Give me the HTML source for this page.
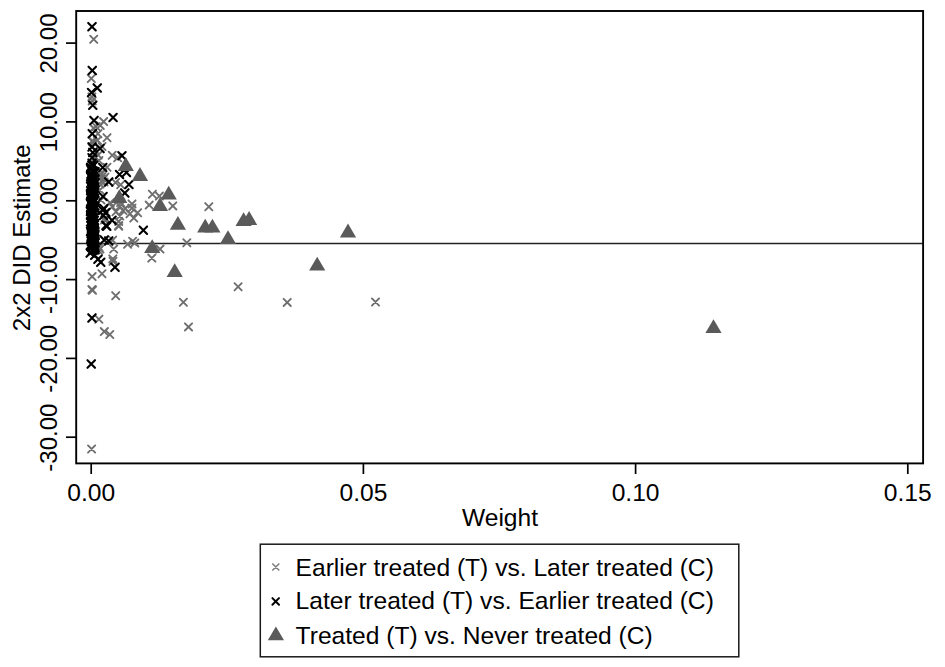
<!DOCTYPE html><html><head><meta charset="utf-8"><title>Bacon decomposition</title>
<style>html,body{margin:0;padding:0;background:#fff}svg{display:block}text{font-family:"Liberation Sans",sans-serif;fill:#000}</style></head><body>
<svg width="945" height="667" viewBox="0 0 945 667">
<rect width="945" height="667" fill="#fff"/>
<line x1="76.2" y1="243.5" x2="923.1" y2="243.5" stroke="#222" stroke-width="1.6"/>
<g>
<path d="M90.1 35.7L97.3 42.9M90.1 42.9L97.3 35.7" stroke="#6e6e6e" stroke-width="1.9" stroke-linecap="round" fill="none"/>
<path d="M87.7 74.9L94.9 82.1M87.7 82.1L94.9 74.9" stroke="#6e6e6e" stroke-width="1.9" stroke-linecap="round" fill="none"/>
<path d="M88.3 93.3L95.5 100.5M88.3 100.5L95.5 93.3" stroke="#6e6e6e" stroke-width="1.9" stroke-linecap="round" fill="none"/>
<path d="M88.6 97.3L95.8 104.5M88.6 104.5L95.8 97.3" stroke="#6e6e6e" stroke-width="1.9" stroke-linecap="round" fill="none"/>
<path d="M100.0 118.0L107.2 125.2M100.0 125.2L107.2 118.0" stroke="#6e6e6e" stroke-width="1.9" stroke-linecap="round" fill="none"/>
<path d="M96.6 121.8L103.8 129.0M96.6 129.0L103.8 121.8" stroke="#6e6e6e" stroke-width="1.9" stroke-linecap="round" fill="none"/>
<path d="M89.9 124.5L97.1 131.7M89.9 131.7L97.1 124.5" stroke="#6e6e6e" stroke-width="1.9" stroke-linecap="round" fill="none"/>
<path d="M92.4 122.9L99.6 130.1M92.4 130.1L99.6 122.9" stroke="#6e6e6e" stroke-width="1.9" stroke-linecap="round" fill="none"/>
<path d="M103.4 134.1L110.6 141.3M103.4 141.3L110.6 134.1" stroke="#6e6e6e" stroke-width="1.9" stroke-linecap="round" fill="none"/>
<path d="M89.2 138.0L96.4 145.2M89.2 145.2L96.4 138.0" stroke="#6e6e6e" stroke-width="1.9" stroke-linecap="round" fill="none"/>
<path d="M90.0 138.8L97.2 146.0M90.0 146.0L97.2 138.8" stroke="#6e6e6e" stroke-width="1.9" stroke-linecap="round" fill="none"/>
<path d="M88.6 137.2L95.8 144.4M88.6 144.4L95.8 137.2" stroke="#6e6e6e" stroke-width="1.9" stroke-linecap="round" fill="none"/>
<path d="M93.9 136.7L101.1 143.9M93.9 143.9L101.1 136.7" stroke="#6e6e6e" stroke-width="1.9" stroke-linecap="round" fill="none"/>
<path d="M94.3 130.1L101.5 137.3M94.3 137.3L101.5 130.1" stroke="#6e6e6e" stroke-width="1.9" stroke-linecap="round" fill="none"/>
<path d="M108.6 151.7L115.8 158.9M108.6 158.9L115.8 151.7" stroke="#6e6e6e" stroke-width="1.9" stroke-linecap="round" fill="none"/>
<path d="M114.1 154.1L121.3 161.3M114.1 161.3L121.3 154.1" stroke="#6e6e6e" stroke-width="1.9" stroke-linecap="round" fill="none"/>
<path d="M98.4 142.9L105.6 150.1M98.4 150.1L105.6 142.9" stroke="#6e6e6e" stroke-width="1.9" stroke-linecap="round" fill="none"/>
<path d="M94.6 151.5L101.8 158.7M94.6 158.7L101.8 151.5" stroke="#6e6e6e" stroke-width="1.9" stroke-linecap="round" fill="none"/>
<path d="M95.3 156.9L102.5 164.1M95.3 164.1L102.5 156.9" stroke="#6e6e6e" stroke-width="1.9" stroke-linecap="round" fill="none"/>
<path d="M103.4 163.7L110.6 170.9M103.4 170.9L110.6 163.7" stroke="#6e6e6e" stroke-width="1.9" stroke-linecap="round" fill="none"/>
<path d="M91.4 146.4L98.6 153.6M91.4 153.6L98.6 146.4" stroke="#6e6e6e" stroke-width="1.9" stroke-linecap="round" fill="none"/>
<path d="M91.4 154.4L98.6 161.6M91.4 161.6L98.6 154.4" stroke="#6e6e6e" stroke-width="1.9" stroke-linecap="round" fill="none"/>
<path d="M96.9 170.4L104.1 177.6M96.9 177.6L104.1 170.4" stroke="#6e6e6e" stroke-width="1.9" stroke-linecap="round" fill="none"/>
<path d="M98.4 172.9L105.6 180.1M98.4 180.1L105.6 172.9" stroke="#6e6e6e" stroke-width="1.9" stroke-linecap="round" fill="none"/>
<path d="M99.9 175.4L107.1 182.6M99.9 182.6L107.1 175.4" stroke="#6e6e6e" stroke-width="1.9" stroke-linecap="round" fill="none"/>
<path d="M97.4 177.4L104.6 184.6M97.4 184.6L104.6 177.4" stroke="#6e6e6e" stroke-width="1.9" stroke-linecap="round" fill="none"/>
<path d="M100.4 178.4L107.6 185.6M100.4 185.6L107.6 178.4" stroke="#6e6e6e" stroke-width="1.9" stroke-linecap="round" fill="none"/>
<path d="M95.9 174.4L103.1 181.6M95.9 181.6L103.1 174.4" stroke="#6e6e6e" stroke-width="1.9" stroke-linecap="round" fill="none"/>
<path d="M98.9 169.4L106.1 176.6M98.9 176.6L106.1 169.4" stroke="#6e6e6e" stroke-width="1.9" stroke-linecap="round" fill="none"/>
<path d="M101.4 173.4L108.6 180.6M101.4 180.6L108.6 173.4" stroke="#6e6e6e" stroke-width="1.9" stroke-linecap="round" fill="none"/>
<path d="M96.4 180.4L103.6 187.6M96.4 187.6L103.6 180.4" stroke="#6e6e6e" stroke-width="1.9" stroke-linecap="round" fill="none"/>
<path d="M148.8 190.6L156.0 197.8M148.8 197.8L156.0 190.6" stroke="#6e6e6e" stroke-width="1.9" stroke-linecap="round" fill="none"/>
<path d="M155.8 192.5L163.0 199.7M155.8 199.7L163.0 192.5" stroke="#6e6e6e" stroke-width="1.9" stroke-linecap="round" fill="none"/>
<path d="M145.6 201.5L152.8 208.7M145.6 208.7L152.8 201.5" stroke="#6e6e6e" stroke-width="1.9" stroke-linecap="round" fill="none"/>
<path d="M169.2 202.3L176.4 209.5M169.2 209.5L176.4 202.3" stroke="#6e6e6e" stroke-width="1.9" stroke-linecap="round" fill="none"/>
<path d="M128.3 204.5L135.5 211.7M128.3 211.7L135.5 204.5" stroke="#6e6e6e" stroke-width="1.9" stroke-linecap="round" fill="none"/>
<path d="M134.0 209.1L141.2 216.3M134.0 216.3L141.2 209.1" stroke="#6e6e6e" stroke-width="1.9" stroke-linecap="round" fill="none"/>
<path d="M130.2 214.5L137.4 221.7M130.2 221.7L137.4 214.5" stroke="#6e6e6e" stroke-width="1.9" stroke-linecap="round" fill="none"/>
<path d="M126.4 210.2L133.6 217.4M126.4 217.4L133.6 210.2" stroke="#6e6e6e" stroke-width="1.9" stroke-linecap="round" fill="none"/>
<path d="M108.6 203.2L115.8 210.4M108.6 210.4L115.8 203.2" stroke="#6e6e6e" stroke-width="1.9" stroke-linecap="round" fill="none"/>
<path d="M116.2 202.7L123.4 209.9M116.2 209.9L123.4 202.7" stroke="#6e6e6e" stroke-width="1.9" stroke-linecap="round" fill="none"/>
<path d="M112.4 208.1L119.6 215.3M112.4 215.3L119.6 208.1" stroke="#6e6e6e" stroke-width="1.9" stroke-linecap="round" fill="none"/>
<path d="M119.4 207.0L126.6 214.2M119.4 214.2L126.6 207.0" stroke="#6e6e6e" stroke-width="1.9" stroke-linecap="round" fill="none"/>
<path d="M116.2 212.4L123.4 219.6M116.2 219.6L123.4 212.4" stroke="#6e6e6e" stroke-width="1.9" stroke-linecap="round" fill="none"/>
<path d="M115.1 217.8L122.3 225.0M115.1 225.0L122.3 217.8" stroke="#6e6e6e" stroke-width="1.9" stroke-linecap="round" fill="none"/>
<path d="M115.1 222.6L122.3 229.8M115.1 229.8L122.3 222.6" stroke="#6e6e6e" stroke-width="1.9" stroke-linecap="round" fill="none"/>
<path d="M121.6 204.8L128.8 212.0M121.6 212.0L128.8 204.8" stroke="#6e6e6e" stroke-width="1.9" stroke-linecap="round" fill="none"/>
<path d="M106.6 199.1L113.8 206.3M106.6 206.3L113.8 199.1" stroke="#6e6e6e" stroke-width="1.9" stroke-linecap="round" fill="none"/>
<path d="M117.0 199.0L124.2 206.2M117.0 206.2L124.2 199.0" stroke="#6e6e6e" stroke-width="1.9" stroke-linecap="round" fill="none"/>
<path d="M128.4 200.3L135.6 207.5M128.4 207.5L135.6 200.3" stroke="#6e6e6e" stroke-width="1.9" stroke-linecap="round" fill="none"/>
<path d="M111.9 178.9L119.1 186.1M111.9 186.1L119.1 178.9" stroke="#6e6e6e" stroke-width="1.9" stroke-linecap="round" fill="none"/>
<path d="M117.1 181.1L124.3 188.3M117.1 188.3L124.3 181.1" stroke="#6e6e6e" stroke-width="1.9" stroke-linecap="round" fill="none"/>
<path d="M101.4 214.4L108.6 221.6M101.4 221.6L108.6 214.4" stroke="#6e6e6e" stroke-width="1.9" stroke-linecap="round" fill="none"/>
<path d="M102.4 215.9L109.6 223.1M102.4 223.1L109.6 215.9" stroke="#6e6e6e" stroke-width="1.9" stroke-linecap="round" fill="none"/>
<path d="M100.9 216.4L108.1 223.6M100.9 223.6L108.1 216.4" stroke="#6e6e6e" stroke-width="1.9" stroke-linecap="round" fill="none"/>
<path d="M183.2 239.2L190.4 246.4M183.2 246.4L190.4 239.2" stroke="#6e6e6e" stroke-width="1.9" stroke-linecap="round" fill="none"/>
<path d="M129.0 237.7L136.2 244.9M129.0 244.9L136.2 237.7" stroke="#6e6e6e" stroke-width="1.9" stroke-linecap="round" fill="none"/>
<path d="M131.2 239.3L138.4 246.5M131.2 246.5L138.4 239.3" stroke="#6e6e6e" stroke-width="1.9" stroke-linecap="round" fill="none"/>
<path d="M124.0 240.6L131.2 247.8M124.0 247.8L131.2 240.6" stroke="#6e6e6e" stroke-width="1.9" stroke-linecap="round" fill="none"/>
<path d="M148.2 254.5L155.4 261.7M148.2 261.7L155.4 254.5" stroke="#6e6e6e" stroke-width="1.9" stroke-linecap="round" fill="none"/>
<path d="M156.4 245.5L163.6 252.7M156.4 252.7L163.6 245.5" stroke="#6e6e6e" stroke-width="1.9" stroke-linecap="round" fill="none"/>
<path d="M110.1 245.4L117.3 252.6M110.1 252.6L117.3 245.4" stroke="#6e6e6e" stroke-width="1.9" stroke-linecap="round" fill="none"/>
<path d="M109.2 255.3L116.4 262.5M109.2 262.5L116.4 255.3" stroke="#6e6e6e" stroke-width="1.9" stroke-linecap="round" fill="none"/>
<path d="M98.4 270.2L105.6 277.4M98.4 277.4L105.6 270.2" stroke="#6e6e6e" stroke-width="1.9" stroke-linecap="round" fill="none"/>
<path d="M88.5 273.0L95.7 280.2M88.5 280.2L95.7 273.0" stroke="#6e6e6e" stroke-width="1.9" stroke-linecap="round" fill="none"/>
<path d="M109.0 236.6L116.2 243.8M109.0 243.8L116.2 236.6" stroke="#6e6e6e" stroke-width="1.9" stroke-linecap="round" fill="none"/>
<path d="M109.4 257.7L116.6 264.9M109.4 264.9L116.6 257.7" stroke="#6e6e6e" stroke-width="1.9" stroke-linecap="round" fill="none"/>
<path d="M88.3 286.0L95.5 293.2M88.3 293.2L95.5 286.0" stroke="#6e6e6e" stroke-width="1.9" stroke-linecap="round" fill="none"/>
<path d="M88.9 286.6L96.1 293.8M88.9 293.8L96.1 286.6" stroke="#6e6e6e" stroke-width="1.9" stroke-linecap="round" fill="none"/>
<path d="M112.1 292.1L119.3 299.3M112.1 299.3L119.3 292.1" stroke="#6e6e6e" stroke-width="1.9" stroke-linecap="round" fill="none"/>
<path d="M179.8 298.7L187.0 305.9M179.8 305.9L187.0 298.7" stroke="#6e6e6e" stroke-width="1.9" stroke-linecap="round" fill="none"/>
<path d="M95.3 315.6L102.5 322.8M95.3 322.8L102.5 315.6" stroke="#6e6e6e" stroke-width="1.9" stroke-linecap="round" fill="none"/>
<path d="M100.7 328.0L107.9 335.2M100.7 335.2L107.9 328.0" stroke="#6e6e6e" stroke-width="1.9" stroke-linecap="round" fill="none"/>
<path d="M106.2 330.9L113.4 338.1M106.2 338.1L113.4 330.9" stroke="#6e6e6e" stroke-width="1.9" stroke-linecap="round" fill="none"/>
<path d="M184.9 323.3L192.1 330.5M184.9 330.5L192.1 323.3" stroke="#6e6e6e" stroke-width="1.9" stroke-linecap="round" fill="none"/>
<path d="M205.2 203.1L212.4 210.3M205.2 210.3L212.4 203.1" stroke="#6e6e6e" stroke-width="1.9" stroke-linecap="round" fill="none"/>
<path d="M234.5 283.2L241.7 290.4M234.5 290.4L241.7 283.2" stroke="#6e6e6e" stroke-width="1.9" stroke-linecap="round" fill="none"/>
<path d="M283.6 298.8L290.8 306.0M283.6 306.0L290.8 298.8" stroke="#6e6e6e" stroke-width="1.9" stroke-linecap="round" fill="none"/>
<path d="M371.9 298.4L379.1 305.6M371.9 305.6L379.1 298.4" stroke="#6e6e6e" stroke-width="1.9" stroke-linecap="round" fill="none"/>
<path d="M88.0 445.4L95.2 452.6M88.0 452.6L95.2 445.4" stroke="#6e6e6e" stroke-width="1.9" stroke-linecap="round" fill="none"/>
<path d="M95.4 243.4L102.6 250.6M95.4 250.6L102.6 243.4" stroke="#6e6e6e" stroke-width="1.9" stroke-linecap="round" fill="none"/>
<path d="M96.4 245.4L103.6 252.6M96.4 252.6L103.6 245.4" stroke="#6e6e6e" stroke-width="1.9" stroke-linecap="round" fill="none"/>
<path d="M94.9 246.9L102.1 254.1M94.9 254.1L102.1 246.9" stroke="#6e6e6e" stroke-width="1.9" stroke-linecap="round" fill="none"/>
<path d="M115.0 222.0L122.2 229.2M115.0 229.2L122.2 222.0" stroke="#6e6e6e" stroke-width="1.9" stroke-linecap="round" fill="none"/>
<path d="M96.4 186.4L103.6 193.6M96.4 193.6L103.6 186.4" stroke="#6e6e6e" stroke-width="1.9" stroke-linecap="round" fill="none"/>
<path d="M97.4 196.4L104.6 203.6M97.4 203.6L104.6 196.4" stroke="#6e6e6e" stroke-width="1.9" stroke-linecap="round" fill="none"/>
</g><g>
<path d="M88.2 22.9L95.8 30.4M88.2 30.4L95.8 22.9" stroke="#000000" stroke-width="2.1" stroke-linecap="round" fill="none"/>
<path d="M88.5 66.7L96.0 74.2M88.5 74.2L96.0 66.7" stroke="#000000" stroke-width="2.1" stroke-linecap="round" fill="none"/>
<path d="M93.5 84.2L101.0 91.8M93.5 91.8L101.0 84.2" stroke="#000000" stroke-width="2.1" stroke-linecap="round" fill="none"/>
<path d="M87.8 88.8L95.2 96.2M87.8 96.2L95.2 88.8" stroke="#000000" stroke-width="2.1" stroke-linecap="round" fill="none"/>
<path d="M89.0 101.5L96.5 109.0M89.0 109.0L96.5 101.5" stroke="#000000" stroke-width="2.1" stroke-linecap="round" fill="none"/>
<path d="M109.3 113.8L116.8 121.2M109.3 121.2L116.8 113.8" stroke="#000000" stroke-width="2.1" stroke-linecap="round" fill="none"/>
<path d="M90.2 116.7L97.8 124.2M90.2 124.2L97.8 116.7" stroke="#000000" stroke-width="2.1" stroke-linecap="round" fill="none"/>
<path d="M88.5 129.9L96.0 137.4M88.5 137.4L96.0 129.9" stroke="#000000" stroke-width="2.1" stroke-linecap="round" fill="none"/>
<path d="M96.3 144.8L103.8 152.3M96.3 152.3L103.8 144.8" stroke="#000000" stroke-width="2.1" stroke-linecap="round" fill="none"/>
<path d="M88.3 143.2L95.8 150.8M88.3 150.8L95.8 143.2" stroke="#000000" stroke-width="2.1" stroke-linecap="round" fill="none"/>
<path d="M89.0 148.7L96.5 156.2M89.0 156.2L96.5 148.7" stroke="#000000" stroke-width="2.1" stroke-linecap="round" fill="none"/>
<path d="M88.3 154.1L95.8 161.6M88.3 161.6L95.8 154.1" stroke="#000000" stroke-width="2.1" stroke-linecap="round" fill="none"/>
<path d="M88.3 159.4L95.8 166.9M88.3 166.9L95.8 159.4" stroke="#000000" stroke-width="2.1" stroke-linecap="round" fill="none"/>
<path d="M118.2 152.1L125.7 159.6M118.2 159.6L125.7 152.1" stroke="#000000" stroke-width="2.1" stroke-linecap="round" fill="none"/>
<path d="M99.0 163.8L106.5 171.2M99.0 171.2L106.5 163.8" stroke="#000000" stroke-width="2.1" stroke-linecap="round" fill="none"/>
<path d="M115.8 170.8L123.3 178.3M115.8 178.3L123.3 170.8" stroke="#000000" stroke-width="2.1" stroke-linecap="round" fill="none"/>
<path d="M122.7 168.8L130.2 176.3M122.7 176.3L130.2 168.8" stroke="#000000" stroke-width="2.1" stroke-linecap="round" fill="none"/>
<path d="M105.0 178.2L112.5 185.8M105.0 185.8L112.5 178.2" stroke="#000000" stroke-width="2.1" stroke-linecap="round" fill="none"/>
<path d="M125.2 180.8L132.7 188.2M125.2 188.2L132.7 180.8" stroke="#000000" stroke-width="2.1" stroke-linecap="round" fill="none"/>
<path d="M121.0 189.2L128.6 196.8M121.0 196.8L128.6 189.2" stroke="#000000" stroke-width="2.1" stroke-linecap="round" fill="none"/>
<path d="M99.2 192.8L106.8 200.2M99.2 200.2L106.8 192.8" stroke="#000000" stroke-width="2.1" stroke-linecap="round" fill="none"/>
<path d="M100.0 204.8L107.5 212.2M100.0 212.2L107.5 204.8" stroke="#000000" stroke-width="2.1" stroke-linecap="round" fill="none"/>
<path d="M102.0 208.8L109.5 216.2M102.0 216.2L109.5 208.8" stroke="#000000" stroke-width="2.1" stroke-linecap="round" fill="none"/>
<path d="M99.8 211.8L107.2 219.2M99.8 219.2L107.2 211.8" stroke="#000000" stroke-width="2.1" stroke-linecap="round" fill="none"/>
<path d="M108.2 216.6L115.8 224.1M108.2 224.1L115.8 216.6" stroke="#000000" stroke-width="2.1" stroke-linecap="round" fill="none"/>
<path d="M103.0 222.4L110.5 229.9M103.0 229.9L110.5 222.4" stroke="#000000" stroke-width="2.1" stroke-linecap="round" fill="none"/>
<path d="M99.0 206.4L106.5 213.9M99.0 213.9L106.5 206.4" stroke="#000000" stroke-width="2.1" stroke-linecap="round" fill="none"/>
<path d="M102.2 221.8L109.8 229.3M102.2 229.3L109.8 221.8" stroke="#000000" stroke-width="2.1" stroke-linecap="round" fill="none"/>
<path d="M139.6 226.4L147.1 233.9M139.6 233.9L147.1 226.4" stroke="#000000" stroke-width="2.1" stroke-linecap="round" fill="none"/>
<path d="M111.2 263.6L118.8 271.1M111.2 271.1L118.8 263.6" stroke="#000000" stroke-width="2.1" stroke-linecap="round" fill="none"/>
<path d="M100.5 236.2L108.0 243.8M100.5 243.8L108.0 236.2" stroke="#000000" stroke-width="2.1" stroke-linecap="round" fill="none"/>
<path d="M105.0 237.2L112.5 244.7M105.0 244.7L112.5 237.2" stroke="#000000" stroke-width="2.1" stroke-linecap="round" fill="none"/>
<path d="M86.5 249.2L94.0 256.8M86.5 256.8L94.0 249.2" stroke="#000000" stroke-width="2.1" stroke-linecap="round" fill="none"/>
<path d="M91.0 251.6L98.5 259.1M91.0 259.1L98.5 251.6" stroke="#000000" stroke-width="2.1" stroke-linecap="round" fill="none"/>
<path d="M94.2 255.6L101.8 263.1M94.2 263.1L101.8 255.6" stroke="#000000" stroke-width="2.1" stroke-linecap="round" fill="none"/>
<path d="M97.0 258.6L104.5 266.1M97.0 266.1L104.5 258.6" stroke="#000000" stroke-width="2.1" stroke-linecap="round" fill="none"/>
<path d="M88.2 314.2L95.7 321.8M88.2 321.8L95.7 314.2" stroke="#000000" stroke-width="2.1" stroke-linecap="round" fill="none"/>
<path d="M87.5 360.2L95.0 367.8M87.5 367.8L95.0 360.2" stroke="#000000" stroke-width="2.1" stroke-linecap="round" fill="none"/>
<path d="M88.2 161.6L95.7 169.1M88.2 169.1L95.7 161.6" stroke="#000000" stroke-width="2.1" stroke-linecap="round" fill="none"/>
<path d="M89.8 161.4L97.3 168.9M89.8 168.9L97.3 161.4" stroke="#000000" stroke-width="2.1" stroke-linecap="round" fill="none"/>
<path d="M89.2 162.0L96.7 169.5M89.2 169.5L96.7 162.0" stroke="#000000" stroke-width="2.1" stroke-linecap="round" fill="none"/>
<path d="M86.9 164.5L94.4 172.0M86.9 172.0L94.4 164.5" stroke="#000000" stroke-width="2.1" stroke-linecap="round" fill="none"/>
<path d="M86.8 164.3L94.3 171.8M86.8 171.8L94.3 164.3" stroke="#000000" stroke-width="2.1" stroke-linecap="round" fill="none"/>
<path d="M87.0 163.6L94.5 171.1M87.0 171.1L94.5 163.6" stroke="#000000" stroke-width="2.1" stroke-linecap="round" fill="none"/>
<path d="M88.7 167.3L96.2 174.8M88.7 174.8L96.2 167.3" stroke="#000000" stroke-width="2.1" stroke-linecap="round" fill="none"/>
<path d="M87.2 166.1L94.7 173.6M87.2 173.6L94.7 166.1" stroke="#000000" stroke-width="2.1" stroke-linecap="round" fill="none"/>
<path d="M89.7 167.5L97.2 175.0M89.7 175.0L97.2 167.5" stroke="#000000" stroke-width="2.1" stroke-linecap="round" fill="none"/>
<path d="M89.4 168.6L96.9 176.1M89.4 176.1L96.9 168.6" stroke="#000000" stroke-width="2.1" stroke-linecap="round" fill="none"/>
<path d="M91.3 167.9L98.8 175.4M91.3 175.4L98.8 167.9" stroke="#000000" stroke-width="2.1" stroke-linecap="round" fill="none"/>
<path d="M90.8 168.4L98.3 175.9M90.8 175.9L98.3 168.4" stroke="#000000" stroke-width="2.1" stroke-linecap="round" fill="none"/>
<path d="M87.3 170.3L94.8 177.8M87.3 177.8L94.8 170.3" stroke="#000000" stroke-width="2.1" stroke-linecap="round" fill="none"/>
<path d="M88.1 171.7L95.6 179.2M88.1 179.2L95.6 171.7" stroke="#000000" stroke-width="2.1" stroke-linecap="round" fill="none"/>
<path d="M87.5 171.2L95.0 178.7M87.5 178.7L95.0 171.2" stroke="#000000" stroke-width="2.1" stroke-linecap="round" fill="none"/>
<path d="M89.7 173.0L97.2 180.5M89.7 180.5L97.2 173.0" stroke="#000000" stroke-width="2.1" stroke-linecap="round" fill="none"/>
<path d="M89.3 172.4L96.8 179.9M89.3 179.9L96.8 172.4" stroke="#000000" stroke-width="2.1" stroke-linecap="round" fill="none"/>
<path d="M86.9 172.7L94.4 180.2M86.9 180.2L94.4 172.7" stroke="#000000" stroke-width="2.1" stroke-linecap="round" fill="none"/>
<path d="M89.9 175.3L97.4 182.8M89.9 182.8L97.4 175.3" stroke="#000000" stroke-width="2.1" stroke-linecap="round" fill="none"/>
<path d="M88.2 175.6L95.7 183.1M88.2 183.1L95.7 175.6" stroke="#000000" stroke-width="2.1" stroke-linecap="round" fill="none"/>
<path d="M88.8 175.0L96.3 182.5M88.8 182.5L96.3 175.0" stroke="#000000" stroke-width="2.1" stroke-linecap="round" fill="none"/>
<path d="M90.5 178.0L98.0 185.5M90.5 185.5L98.0 178.0" stroke="#000000" stroke-width="2.1" stroke-linecap="round" fill="none"/>
<path d="M87.8 177.8L95.3 185.3M87.8 185.3L95.3 177.8" stroke="#000000" stroke-width="2.1" stroke-linecap="round" fill="none"/>
<path d="M89.2 178.4L96.7 185.9M89.2 185.9L96.7 178.4" stroke="#000000" stroke-width="2.1" stroke-linecap="round" fill="none"/>
<path d="M90.2 179.4L97.7 186.9M90.2 186.9L97.7 179.4" stroke="#000000" stroke-width="2.1" stroke-linecap="round" fill="none"/>
<path d="M91.4 179.1L98.9 186.6M91.4 186.6L98.9 179.1" stroke="#000000" stroke-width="2.1" stroke-linecap="round" fill="none"/>
<path d="M88.7 180.4L96.2 187.9M88.7 187.9L96.2 180.4" stroke="#000000" stroke-width="2.1" stroke-linecap="round" fill="none"/>
<path d="M87.4 182.0L94.9 189.5M87.4 189.5L94.9 182.0" stroke="#000000" stroke-width="2.1" stroke-linecap="round" fill="none"/>
<path d="M86.8 182.4L94.3 189.9M86.8 189.9L94.3 182.4" stroke="#000000" stroke-width="2.1" stroke-linecap="round" fill="none"/>
<path d="M90.3 182.2L97.8 189.7M90.3 189.7L97.8 182.2" stroke="#000000" stroke-width="2.1" stroke-linecap="round" fill="none"/>
<path d="M90.9 183.9L98.4 191.4M90.9 191.4L98.4 183.9" stroke="#000000" stroke-width="2.1" stroke-linecap="round" fill="none"/>
<path d="M90.0 184.4L97.5 191.9M90.0 191.9L97.5 184.4" stroke="#000000" stroke-width="2.1" stroke-linecap="round" fill="none"/>
<path d="M89.4 184.2L96.9 191.7M89.4 191.7L96.9 184.2" stroke="#000000" stroke-width="2.1" stroke-linecap="round" fill="none"/>
<path d="M90.7 187.3L98.2 194.8M90.7 194.8L98.2 187.3" stroke="#000000" stroke-width="2.1" stroke-linecap="round" fill="none"/>
<path d="M88.9 186.8L96.4 194.3M88.9 194.3L96.4 186.8" stroke="#000000" stroke-width="2.1" stroke-linecap="round" fill="none"/>
<path d="M86.9 186.9L94.4 194.4M86.9 194.4L94.4 186.9" stroke="#000000" stroke-width="2.1" stroke-linecap="round" fill="none"/>
<path d="M89.8 189.6L97.3 197.1M89.8 197.1L97.3 189.6" stroke="#000000" stroke-width="2.1" stroke-linecap="round" fill="none"/>
<path d="M90.6 188.2L98.1 195.7M90.6 195.7L98.1 188.2" stroke="#000000" stroke-width="2.1" stroke-linecap="round" fill="none"/>
<path d="M88.5 189.0L96.0 196.5M88.5 196.5L96.0 189.0" stroke="#000000" stroke-width="2.1" stroke-linecap="round" fill="none"/>
<path d="M86.8 190.8L94.3 198.3M86.8 198.3L94.3 190.8" stroke="#000000" stroke-width="2.1" stroke-linecap="round" fill="none"/>
<path d="M87.5 190.1L95.0 197.6M87.5 197.6L95.0 190.1" stroke="#000000" stroke-width="2.1" stroke-linecap="round" fill="none"/>
<path d="M86.9 191.4L94.4 198.9M86.9 198.9L94.4 191.4" stroke="#000000" stroke-width="2.1" stroke-linecap="round" fill="none"/>
<path d="M87.3 192.5L94.8 200.0M87.3 200.0L94.8 192.5" stroke="#000000" stroke-width="2.1" stroke-linecap="round" fill="none"/>
<path d="M88.5 193.8L96.0 201.3M88.5 201.3L96.0 193.8" stroke="#000000" stroke-width="2.1" stroke-linecap="round" fill="none"/>
<path d="M87.0 192.9L94.5 200.4M87.0 200.4L94.5 192.9" stroke="#000000" stroke-width="2.1" stroke-linecap="round" fill="none"/>
<path d="M89.3 196.0L96.8 203.5M89.3 203.5L96.8 196.0" stroke="#000000" stroke-width="2.1" stroke-linecap="round" fill="none"/>
<path d="M90.6 196.0L98.1 203.5M90.6 203.5L98.1 196.0" stroke="#000000" stroke-width="2.1" stroke-linecap="round" fill="none"/>
<path d="M88.0 195.1L95.5 202.6M88.0 202.6L95.5 195.1" stroke="#000000" stroke-width="2.1" stroke-linecap="round" fill="none"/>
<path d="M88.4 198.2L95.9 205.7M88.4 205.7L95.9 198.2" stroke="#000000" stroke-width="2.1" stroke-linecap="round" fill="none"/>
<path d="M91.2 196.8L98.7 204.3M91.2 204.3L98.7 196.8" stroke="#000000" stroke-width="2.1" stroke-linecap="round" fill="none"/>
<path d="M87.5 196.9L95.0 204.4M87.5 204.4L95.0 196.9" stroke="#000000" stroke-width="2.1" stroke-linecap="round" fill="none"/>
<path d="M87.8 199.6L95.3 207.1M87.8 207.1L95.3 199.6" stroke="#000000" stroke-width="2.1" stroke-linecap="round" fill="none"/>
<path d="M89.5 199.2L97.0 206.7M89.5 206.7L97.0 199.2" stroke="#000000" stroke-width="2.1" stroke-linecap="round" fill="none"/>
<path d="M86.7 199.5L94.2 207.0M86.7 207.0L94.2 199.5" stroke="#000000" stroke-width="2.1" stroke-linecap="round" fill="none"/>
<path d="M88.4 202.0L95.9 209.5M88.4 209.5L95.9 202.0" stroke="#000000" stroke-width="2.1" stroke-linecap="round" fill="none"/>
<path d="M91.2 202.2L98.7 209.7M91.2 209.7L98.7 202.2" stroke="#000000" stroke-width="2.1" stroke-linecap="round" fill="none"/>
<path d="M89.1 202.1L96.6 209.6M89.1 209.6L96.6 202.1" stroke="#000000" stroke-width="2.1" stroke-linecap="round" fill="none"/>
<path d="M89.9 203.2L97.4 210.7M89.9 210.7L97.4 203.2" stroke="#000000" stroke-width="2.1" stroke-linecap="round" fill="none"/>
<path d="M91.0 204.6L98.5 212.1M91.0 212.1L98.5 204.6" stroke="#000000" stroke-width="2.1" stroke-linecap="round" fill="none"/>
<path d="M90.8 204.6L98.3 212.1M90.8 212.1L98.3 204.6" stroke="#000000" stroke-width="2.1" stroke-linecap="round" fill="none"/>
<path d="M88.5 206.0L96.0 213.5M88.5 213.5L96.0 206.0" stroke="#000000" stroke-width="2.1" stroke-linecap="round" fill="none"/>
<path d="M87.1 206.5L94.6 214.0M87.1 214.0L94.6 206.5" stroke="#000000" stroke-width="2.1" stroke-linecap="round" fill="none"/>
<path d="M86.9 205.4L94.4 212.9M86.9 212.9L94.4 205.4" stroke="#000000" stroke-width="2.1" stroke-linecap="round" fill="none"/>
<path d="M87.7 207.8L95.2 215.3M87.7 215.3L95.2 207.8" stroke="#000000" stroke-width="2.1" stroke-linecap="round" fill="none"/>
<path d="M88.3 207.6L95.8 215.1M88.3 215.1L95.8 207.6" stroke="#000000" stroke-width="2.1" stroke-linecap="round" fill="none"/>
<path d="M86.7 207.8L94.2 215.3M86.7 215.3L94.2 207.8" stroke="#000000" stroke-width="2.1" stroke-linecap="round" fill="none"/>
<path d="M87.1 210.4L94.6 217.9M87.1 217.9L94.6 210.4" stroke="#000000" stroke-width="2.1" stroke-linecap="round" fill="none"/>
<path d="M86.8 211.4L94.3 218.9M86.8 218.9L94.3 211.4" stroke="#000000" stroke-width="2.1" stroke-linecap="round" fill="none"/>
<path d="M89.6 209.9L97.1 217.4M89.6 217.4L97.1 209.9" stroke="#000000" stroke-width="2.1" stroke-linecap="round" fill="none"/>
<path d="M87.9 212.5L95.4 220.0M87.9 220.0L95.4 212.5" stroke="#000000" stroke-width="2.1" stroke-linecap="round" fill="none"/>
<path d="M88.4 212.1L95.9 219.6M88.4 219.6L95.9 212.1" stroke="#000000" stroke-width="2.1" stroke-linecap="round" fill="none"/>
<path d="M90.7 213.8L98.2 221.3M90.7 221.3L98.2 213.8" stroke="#000000" stroke-width="2.1" stroke-linecap="round" fill="none"/>
<path d="M88.9 215.0L96.4 222.5M88.9 222.5L96.4 215.0" stroke="#000000" stroke-width="2.1" stroke-linecap="round" fill="none"/>
<path d="M87.1 214.3L94.6 221.8M87.1 221.8L94.6 214.3" stroke="#000000" stroke-width="2.1" stroke-linecap="round" fill="none"/>
<path d="M88.3 214.6L95.8 222.1M88.3 222.1L95.8 214.6" stroke="#000000" stroke-width="2.1" stroke-linecap="round" fill="none"/>
<path d="M90.6 216.6L98.1 224.1M90.6 224.1L98.1 216.6" stroke="#000000" stroke-width="2.1" stroke-linecap="round" fill="none"/>
<path d="M86.8 218.2L94.3 225.7M86.8 225.7L94.3 218.2" stroke="#000000" stroke-width="2.1" stroke-linecap="round" fill="none"/>
<path d="M89.2 216.5L96.7 224.0M89.2 224.0L96.7 216.5" stroke="#000000" stroke-width="2.1" stroke-linecap="round" fill="none"/>
<path d="M89.3 218.5L96.8 226.0M89.3 226.0L96.8 218.5" stroke="#000000" stroke-width="2.1" stroke-linecap="round" fill="none"/>
<path d="M89.2 220.4L96.7 227.9M89.2 227.9L96.7 220.4" stroke="#000000" stroke-width="2.1" stroke-linecap="round" fill="none"/>
<path d="M90.8 219.8L98.3 227.3M90.8 227.3L98.3 219.8" stroke="#000000" stroke-width="2.1" stroke-linecap="round" fill="none"/>
<path d="M87.9 221.4L95.4 228.9M87.9 228.9L95.4 221.4" stroke="#000000" stroke-width="2.1" stroke-linecap="round" fill="none"/>
<path d="M87.5 222.2L95.0 229.7M87.5 229.7L95.0 222.2" stroke="#000000" stroke-width="2.1" stroke-linecap="round" fill="none"/>
<path d="M89.2 222.2L96.7 229.7M89.2 229.7L96.7 222.2" stroke="#000000" stroke-width="2.1" stroke-linecap="round" fill="none"/>
<path d="M88.2 223.3L95.7 230.8M88.2 230.8L95.7 223.3" stroke="#000000" stroke-width="2.1" stroke-linecap="round" fill="none"/>
<path d="M90.5 224.8L98.0 232.3M90.5 232.3L98.0 224.8" stroke="#000000" stroke-width="2.1" stroke-linecap="round" fill="none"/>
<path d="M90.7 224.5L98.2 232.0M90.7 232.0L98.2 224.5" stroke="#000000" stroke-width="2.1" stroke-linecap="round" fill="none"/>
<path d="M90.6 226.5L98.1 234.0M90.6 234.0L98.1 226.5" stroke="#000000" stroke-width="2.1" stroke-linecap="round" fill="none"/>
<path d="M87.7 226.1L95.2 233.6M87.7 233.6L95.2 226.1" stroke="#000000" stroke-width="2.1" stroke-linecap="round" fill="none"/>
<path d="M88.4 225.1L95.9 232.6M88.4 232.6L95.9 225.1" stroke="#000000" stroke-width="2.1" stroke-linecap="round" fill="none"/>
<path d="M86.8 227.8L94.3 235.3M86.8 235.3L94.3 227.8" stroke="#000000" stroke-width="2.1" stroke-linecap="round" fill="none"/>
<path d="M87.9 228.6L95.4 236.1M87.9 236.1L95.4 228.6" stroke="#000000" stroke-width="2.1" stroke-linecap="round" fill="none"/>
<path d="M91.2 228.1L98.7 235.6M91.2 235.6L98.7 228.1" stroke="#000000" stroke-width="2.1" stroke-linecap="round" fill="none"/>
<path d="M91.1 231.4L98.6 238.9M91.1 238.9L98.6 231.4" stroke="#000000" stroke-width="2.1" stroke-linecap="round" fill="none"/>
<path d="M91.2 230.2L98.7 237.7M91.2 237.7L98.7 230.2" stroke="#000000" stroke-width="2.1" stroke-linecap="round" fill="none"/>
<path d="M87.7 229.9L95.2 237.4M87.7 237.4L95.2 229.9" stroke="#000000" stroke-width="2.1" stroke-linecap="round" fill="none"/>
<path d="M87.6 232.1L95.1 239.6M87.6 239.6L95.1 232.1" stroke="#000000" stroke-width="2.1" stroke-linecap="round" fill="none"/>
<path d="M89.6 233.5L97.1 241.0M89.6 241.0L97.1 233.5" stroke="#000000" stroke-width="2.1" stroke-linecap="round" fill="none"/>
<path d="M90.7 232.6L98.2 240.1M90.7 240.1L98.2 232.6" stroke="#000000" stroke-width="2.1" stroke-linecap="round" fill="none"/>
<path d="M89.8 235.4L97.3 242.9M89.8 242.9L97.3 235.4" stroke="#000000" stroke-width="2.1" stroke-linecap="round" fill="none"/>
<path d="M87.1 235.2L94.6 242.7M87.1 242.7L94.6 235.2" stroke="#000000" stroke-width="2.1" stroke-linecap="round" fill="none"/>
<path d="M91.0 235.4L98.5 242.9M91.0 242.9L98.5 235.4" stroke="#000000" stroke-width="2.1" stroke-linecap="round" fill="none"/>
<path d="M90.3 237.0L97.8 244.5M90.3 244.5L97.8 237.0" stroke="#000000" stroke-width="2.1" stroke-linecap="round" fill="none"/>
<path d="M87.5 237.6L95.0 245.1M87.5 245.1L95.0 237.6" stroke="#000000" stroke-width="2.1" stroke-linecap="round" fill="none"/>
<path d="M88.2 237.7L95.7 245.2M88.2 245.2L95.7 237.7" stroke="#000000" stroke-width="2.1" stroke-linecap="round" fill="none"/>
<path d="M91.3 239.0L98.8 246.5M91.3 246.5L98.8 239.0" stroke="#000000" stroke-width="2.1" stroke-linecap="round" fill="none"/>
<path d="M88.6 240.1L96.1 247.6M88.6 247.6L96.1 240.1" stroke="#000000" stroke-width="2.1" stroke-linecap="round" fill="none"/>
<path d="M90.1 238.6L97.6 246.1M90.1 246.1L97.6 238.6" stroke="#000000" stroke-width="2.1" stroke-linecap="round" fill="none"/>
<path d="M87.3 240.8L94.8 248.3M87.3 248.3L94.8 240.8" stroke="#000000" stroke-width="2.1" stroke-linecap="round" fill="none"/>
<path d="M91.0 242.1L98.5 249.6M91.0 249.6L98.5 242.1" stroke="#000000" stroke-width="2.1" stroke-linecap="round" fill="none"/>
<path d="M87.4 242.1L94.9 249.6M87.4 249.6L94.9 242.1" stroke="#000000" stroke-width="2.1" stroke-linecap="round" fill="none"/>
<path d="M91.4 244.0L98.9 251.5M91.4 251.5L98.9 244.0" stroke="#000000" stroke-width="2.1" stroke-linecap="round" fill="none"/>
<path d="M88.3 243.7L95.8 251.2M88.3 251.2L95.8 243.7" stroke="#000000" stroke-width="2.1" stroke-linecap="round" fill="none"/>
<path d="M87.3 242.7L94.8 250.2M87.3 250.2L94.8 242.7" stroke="#000000" stroke-width="2.1" stroke-linecap="round" fill="none"/>
<path d="M91.3 246.1L98.8 253.6M91.3 253.6L98.8 246.1" stroke="#000000" stroke-width="2.1" stroke-linecap="round" fill="none"/>
<path d="M89.2 246.7L96.7 254.2M89.2 254.2L96.7 246.7" stroke="#000000" stroke-width="2.1" stroke-linecap="round" fill="none"/>
<path d="M88.7 246.6L96.2 254.1M88.7 254.1L96.2 246.6" stroke="#000000" stroke-width="2.1" stroke-linecap="round" fill="none"/>
</g><g>
<path d="M125.8 157.1L133.9 170.9L117.7 170.9Z" fill="#5a5a5a"/>
<path d="M140.0 167.1L148.1 180.9L131.9 180.9Z" fill="#5a5a5a"/>
<path d="M168.7 185.7L176.8 199.5L160.6 199.5Z" fill="#5a5a5a"/>
<path d="M160.0 197.3L168.1 211.1L151.9 211.1Z" fill="#5a5a5a"/>
<path d="M119.3 189.3L127.4 203.1L111.2 203.1Z" fill="#5a5a5a"/>
<path d="M177.9 215.9L186.0 229.7L169.8 229.7Z" fill="#5a5a5a"/>
<path d="M152.2 239.3L160.3 253.1L144.1 253.1Z" fill="#5a5a5a"/>
<path d="M174.7 263.3L182.8 277.1L166.6 277.1Z" fill="#5a5a5a"/>
<path d="M205.2 218.8L213.3 232.6L197.1 232.6Z" fill="#5a5a5a"/>
<path d="M212.4 218.8L220.5 232.6L204.3 232.6Z" fill="#5a5a5a"/>
<path d="M243.6 212.3L251.7 226.1L235.5 226.1Z" fill="#5a5a5a"/>
<path d="M249.1 211.1L257.2 224.9L241.0 224.9Z" fill="#5a5a5a"/>
<path d="M228.0 230.3L236.1 244.1L219.9 244.1Z" fill="#5a5a5a"/>
<path d="M348.0 223.6L356.1 237.4L339.9 237.4Z" fill="#5a5a5a"/>
<path d="M317.2 256.7L325.3 270.5L309.1 270.5Z" fill="#5a5a5a"/>
<path d="M713.5 319.2L721.6 333.0L705.4 333.0Z" fill="#5a5a5a"/>
</g>
<rect x="76.2" y="11.0" width="846.9" height="452.4" fill="none" stroke="#000" stroke-width="1.9"/>
<line x1="66" y1="43.1" x2="76.2" y2="43.1" stroke="#000" stroke-width="1.7"/>
<line x1="66" y1="121.9" x2="76.2" y2="121.9" stroke="#000" stroke-width="1.7"/>
<line x1="66" y1="200.8" x2="76.2" y2="200.8" stroke="#000" stroke-width="1.7"/>
<line x1="66" y1="279.6" x2="76.2" y2="279.6" stroke="#000" stroke-width="1.7"/>
<line x1="66" y1="358.4" x2="76.2" y2="358.4" stroke="#000" stroke-width="1.7"/>
<line x1="66" y1="437.2" x2="76.2" y2="437.2" stroke="#000" stroke-width="1.7"/>
<line x1="91.2" y1="463.4" x2="91.2" y2="474" stroke="#000" stroke-width="1.7"/>
<line x1="363.4" y1="463.4" x2="363.4" y2="474" stroke="#000" stroke-width="1.7"/>
<line x1="635.6" y1="463.4" x2="635.6" y2="474" stroke="#000" stroke-width="1.7"/>
<line x1="907.8" y1="463.4" x2="907.8" y2="474" stroke="#000" stroke-width="1.7"/>
<text transform="translate(56.9 43.5) rotate(-90)" text-anchor="middle" font-size="24">20.00</text>
<text transform="translate(56.9 122.30000000000001) rotate(-90)" text-anchor="middle" font-size="24">10.00</text>
<text transform="translate(56.9 201.20000000000002) rotate(-90)" text-anchor="middle" font-size="24">0.00</text>
<text transform="translate(56.9 280.0) rotate(-90)" text-anchor="middle" font-size="24">-10.00</text>
<text transform="translate(56.9 358.79999999999995) rotate(-90)" text-anchor="middle" font-size="24">-20.00</text>
<text transform="translate(56.9 437.59999999999997) rotate(-90)" text-anchor="middle" font-size="24">-30.00</text>
<text x="91.2" y="500.8" text-anchor="middle" font-size="24.6">0.00</text>
<text x="363.4" y="500.8" text-anchor="middle" font-size="24.6">0.05</text>
<text x="635.6" y="500.8" text-anchor="middle" font-size="24.6">0.10</text>
<text x="907.8" y="500.8" text-anchor="middle" font-size="24.6">0.15</text>
<text transform="translate(30.1 237.8) rotate(-90)" text-anchor="middle" font-size="24">2x2 DID Estimate</text>
<text x="500" y="525.6" text-anchor="middle" font-size="24.6">Weight</text>
<rect x="260.3" y="544.2" width="478.5" height="112.6" fill="#fff" stroke="#1a1a1a" stroke-width="1.5"/>
<path d="M272.8 564.0L278.8 570.0M272.8 570.0L278.8 564.0" stroke="#808080" stroke-width="1.7" stroke-linecap="round" fill="none"/>
<path d="M272.4 598.1L279.0 604.7M272.4 604.7L279.0 598.1" stroke="#000000" stroke-width="2.0" stroke-linecap="round" fill="none"/>
<path d="M275.9 626.6L284.0 640.2L267.8 640.2Z" fill="#5a5a5a"/>
<text x="295.6" y="576" font-size="24.6">Earlier treated (T) vs. Later treated (C)</text>
<text x="295.6" y="609.1" font-size="24.6">Later treated (T) vs. Earlier treated (C)</text>
<text x="295.6" y="644" font-size="24.6">Treated (T) vs. Never treated (C)</text>
</svg></body></html>
